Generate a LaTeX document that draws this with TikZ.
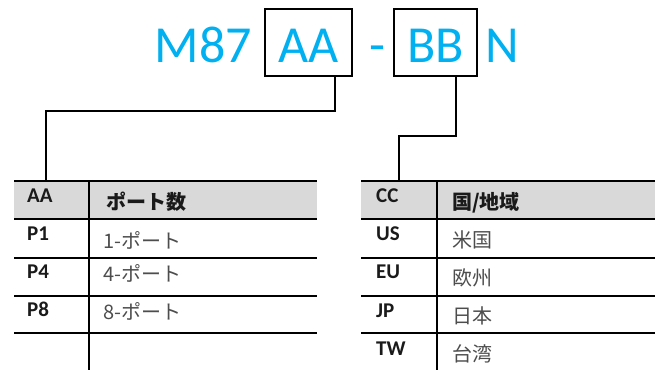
\documentclass[tikz,border=0pt]{standalone}
\usepackage{fontspec}
\setmainfont{Carlito}
\newfontfamily\cjk{Noto Sans CJK JP}
\definecolor{titleblue}{HTML}{00B0F0}
\definecolor{hdrgray}{HTML}{D9D9D9}
\definecolor{txtgray}{HTML}{4D4D4D}
\definecolor{txtdark}{HTML}{1A1A1A}
\tikzset{
  titletext/.style={font=\fontsize{52}{60}\selectfont, text=titleblue, inner sep=0pt, anchor=base},
  codebox/.style={draw, line width=2pt, font=\fontsize{52}{60}\selectfont, text=titleblue,
    text height=44pt, text depth=5pt, inner ysep=9pt, inner xsep=0pt, anchor=base},
  codetext/.style={font=\bfseries\fontsize{21}{24}\selectfont, text=txtdark, anchor=base west, inner sep=0pt},
  hdrtext/.style={font=\cjk\bfseries\fontsize{20}{24}\selectfont, text=txtdark, anchor=base west, inner sep=0pt},
  valtext/.style={font=\cjk\fontsize{20}{24}\selectfont, text=txtgray, anchor=base west, inner sep=0pt},
  tablerule/.style={line width=2pt},
  connector/.style={line width=2pt},
}
\begin{document}
\begin{tikzpicture}[x=1pt,y=-1pt]
\useasboundingbox (0,0) rectangle (655,370);
% title
\node[titletext] (m87) at (203.5,62) {M87};
\node[codebox, minimum width=87pt] (aa) at (308.5,62) {AA};
\node[titletext] (dash) at (377,62) {-};
\node[codebox, minimum width=83pt] (bb) at (435.5,62) {BB};
\node[titletext, anchor=base west] (n) at (485,62) {N};
% table anchors
\coordinate (ta) at (46,181);
\coordinate (tc) at (399,181);
% connectors
\draw[connector] ([xshift=-18pt]aa.south east) -- ++(0,34) -| (ta);
\draw[connector] ([xshift=-22pt]bb.south east) -- ++(0,59) -| (tc);
% left table
\fill[hdrgray] (14,181) rectangle (317,219);
\foreach \yy in {181,219,258,296,333} \draw[tablerule] (14,\yy) -- (317,\yy);
\draw[tablerule] (89,181) -- (89,370);
\node[codetext] (la0) at (27,202) {AA};
\node[codetext] (la1) at (27,240) {P1};
\node[codetext] (la2) at (27,278) {P4};
\node[codetext] (la3) at (27,316) {P8};
\node[hdrtext] (lb0) at (106,209) {ポート数};
\node[valtext] (lb1) at (103,248) {1-ポート};
\node[valtext] (lb2) at (103,281) {4-ポート};
\node[valtext] (lb3) at (103,319) {8-ポート};
% right table
\fill[hdrgray] (361,181) rectangle (655,219);
\foreach \yy in {181,219,258,296,333} \draw[tablerule] (361,\yy) -- (655,\yy);
\draw[tablerule] (437,181) -- (437,370);
\node[codetext] (ra0) at (376,202) {CC};
\node[codetext] (ra1) at (376,240) {US};
\node[codetext] (ra2) at (376,278) {EU};
\node[codetext] (ra3) at (376,317) {JP};
\node[codetext] (ra4) at (376,355) {TW};
\node[hdrtext] (rb0) at (452,209) {国/地域};
\node[valtext] (rb1) at (452,247) {米国};
\node[valtext] (rb2) at (452,285) {欧州};
\node[valtext] (rb3) at (452,323) {日本};
\node[valtext] (rb4) at (452,361) {台湾};
\end{tikzpicture}
\end{document}
